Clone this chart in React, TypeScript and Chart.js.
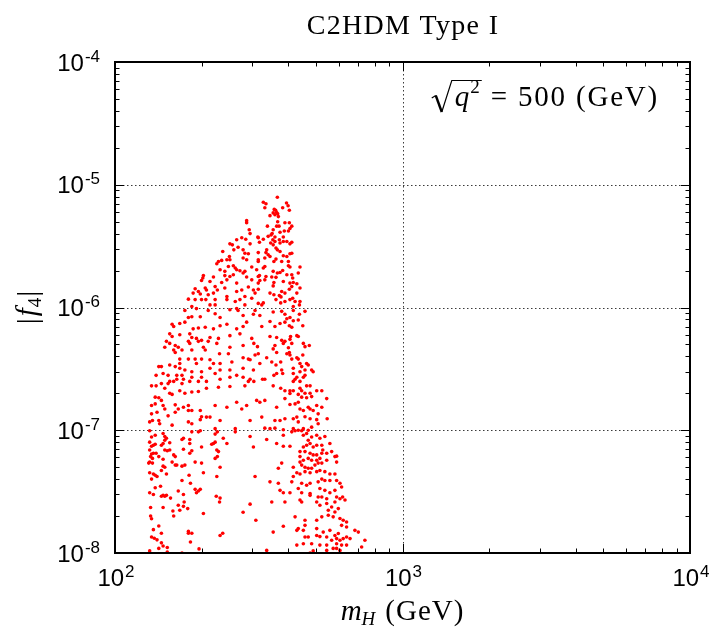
import React, { useEffect, useRef } from "react";
import { Chart, registerables } from "chart.js";

Chart.register(...registerables);

// ---- axis / text content ----
const titleText = "C2HDM Type I";
const xTickValues = [100, 1000, 10000];
const xTickExponents = ["2", "3", "4"];
const yTickValues = [1e-8, 1e-7, 1e-6, 1e-5, 1e-4];
const yTickExponents = ["-8", "-7", "-6", "-5", "-4"];
const minorFactors = [2, 3, 4, 5, 6, 7, 8, 9];
const annotationRest = "= 500 (GeV)";

// ---- scatter data: [m_H (GeV), |f4|] ----
const peakPoints: [number, number][] = [
  [367,7.9e-6],[328,7.2e-6],[335,7.0e-6],[332,6.5e-6],[395,7.1e-6],[400,6.75e-6],[383,6.5e-6],[404,6.2e-6],[358,6.3e-6],[362,6.2e-6],
  [355,5.9e-6],[365,5.95e-6],[360,5.7e-6],[368,5.8e-6],[346,5.6e-6],[370,5.5e-6],[368,5.0e-6],[390,4.9e-6],[404,4.9e-6],[412,4.6e-6],
  [406,4.4e-6],[339,4.6e-6],[365,4.6e-6],[372,4.6e-6],[355,4.3e-6],[352,4.0e-6],[388,4.2e-6],[401,4.2e-6],[375,4.1e-6],[341,3.8e-6],
  [349,3.9e-6],[360,3.75e-6],[385,3.75e-6],[314,3.75e-6],[328,3.6e-6],
];

const upperLeftPoints: [number, number][] = [
  [287,5.1e-6],[287,4.9e-6],[293,4.3e-6],[295,4.0e-6],[276,3.7e-6],[285,3.6e-6],[315,3.7e-6],[251,3.3e-6],[265,3.56e-6],[256,3.24e-6],
  [268,3.1e-6],[295,3.3e-6],[279,2.95e-6],[237,2.86e-6],[259,2.95e-6],[283,2.77e-6],[291,2.74e-6],[315,2.8e-6],[250,2.6e-6],[245,2.45e-6],
  [251,2.45e-6],[229,2.37e-6],[235,2.42e-6],[226,2.27e-6],[279,2.53e-6],[287,2.45e-6],[315,2.37e-6],[248,2.16e-6],[258,2.19e-6],[262,2.1e-6],
  [232,2.03e-6],[241,1.97e-6],[265,2.03e-6],[272,1.99e-6],[283,1.97e-6],[299,2.14e-6],[311,2.03e-6],[203,1.82e-6],[202,1.74e-6],[220,1.77e-6],
  [241,1.82e-6],[251,1.79e-6],[258,1.85e-6],[279,1.91e-6],[287,1.77e-6],[299,1.68e-6],[315,1.79e-6],[200,1.66e-6],[214,1.63e-6],[235,1.6e-6],
  [245,1.68e-6],[265,1.58e-6],[190,1.42e-6],[195,1.35e-6],[206,1.44e-6],[208,1.39e-6],[223,1.48e-6],[227,1.39e-6],[241,1.44e-6],[276,1.39e-6],
  [291,1.47e-6],[303,1.39e-6],[315,1.58e-6],[187,1.31e-6],[198,1.29e-6],[211,1.27e-6],[220,1.31e-6],[245,1.23e-6],[265,1.35e-6],[283,1.23e-6],
  [307,1.31e-6],[180,1.17e-6],[190,1.16e-6],[200,1.16e-6],[207,1.16e-6],[223,1.16e-6],[245,1.16e-6],[262,1.12e-6],[272,1.16e-6],[299,1.19e-6],
  [185,1.02e-6],[192,9.8e-7],[214,1.05e-6],[223,1.05e-6],[265,9.8e-7],[283,1.05e-6],[315,1.08e-6],[175,9.45e-7],[211,9.45e-7],[251,9.6e-7],
  [268,9.45e-7],[307,9.45e-7],
];

const upperRightPoints: [number, number][] = [
  [354,3.56e-6],[360,3.45e-6],[373,3.56e-6],[375,3.35e-6],[385,3.45e-6],[396,3.45e-6],[406,3.3e-6],[412,3.4e-6],[318,3.4e-6],[348,3.35e-6],
  [355,3.24e-6],[363,3.05e-6],[367,2.95e-6],[375,2.86e-6],[406,2.74e-6],[385,2.64e-6],[396,2.6e-6],[412,2.77e-6],[337,2.95e-6],[335,2.8e-6],
  [341,2.69e-6],[346,2.6e-6],[315,2.45e-6],[332,2.53e-6],[357,2.37e-6],[363,2.48e-6],[380,2.37e-6],[401,2.37e-6],[332,2.16e-6],[328,2.1e-6],
  [355,1.97e-6],[367,1.91e-6],[375,1.93e-6],[383,2.0e-6],[401,2.19e-6],[406,2.14e-6],[440,2.14e-6],[318,1.82e-6],[335,1.79e-6],[351,1.77e-6],
  [363,1.76e-6],[396,1.85e-6],[412,1.85e-6],[415,1.74e-6],[434,1.91e-6],[332,1.68e-6],[319,1.66e-6],[357,1.6e-6],[355,1.5e-6],[385,1.63e-6],
  [406,1.58e-6],[417,1.6e-6],[429,1.56e-6],[315,1.41e-6],[346,1.31e-6],[357,1.27e-6],[373,1.25e-6],[378,1.22e-6],[380,1.35e-6],[390,1.31e-6],
  [404,1.41e-6],[412,1.48e-6],[429,1.31e-6],[440,1.44e-6],[328,1.09e-6],[324,1.05e-6],[363,1.16e-6],[377,1.09e-6],[390,1.12e-6],[406,1.16e-6],
  [415,1.19e-6],[423,1.12e-6],[440,1.12e-6],[438,1.05e-6],[417,1.02e-6],
];

const middleLeftPoints: [number, number][] = [
  [180,8.3e-7],[185,8.4e-7],[198,8.4e-7],[223,8.9e-7],[232,8.3e-7],[279,8.6e-7],
  [158,7.3e-7],[160,7.0e-7],[168,7.4e-7],[175,7.6e-7],[187,6.7e-7],[195,6.8e-7],[206,6.9e-7],[220,6.7e-7],[232,7.1e-7],[245,7.3e-7],[287,7.6e-7],[279,7.0e-7],[265,6.7e-7],
  [155,6.1e-7],[158,5.8e-7],[168,6.0e-7],[182,6.1e-7],[185,5.7e-7],[192,5.6e-7],[200,5.4e-7],[214,5.7e-7],[229,5.6e-7],[251,5.9e-7],[272,6.1e-7],
  [151,5.3e-7],[155,5.1e-7],[149,4.75e-7],[162,4.9e-7],[166,4.75e-7],[180,5.3e-7],[182,5.1e-7],[195,5.3e-7],[203,4.75e-7],[211,5.3e-7],[226,5.1e-7],[251,4.75e-7],[279,4.9e-7],
  [160,4.5e-7],[162,4.3e-7],[171,4.5e-7],[185,4.5e-7],[206,4.5e-7],[231,4.2e-7],[248,4.2e-7],[279,3.9e-7],[291,3.8e-7],
  [168,3.8e-7],[168,3.5e-7],[180,3.8e-7],[190,3.8e-7],[192,3.5e-7],[200,3.8e-7],[214,3.75e-7],[220,3.5e-7],[232,3.5e-7],[255,3.6e-7],
  [142,3.3e-7],[145,3.3e-7],[155,3.4e-7],[162,3.3e-7],[168,3.2e-7],[175,3.1e-7],[185,3.0e-7],[200,3.0e-7],[214,3.2e-7],[232,3.1e-7],[251,3.1e-7],[279,3.2e-7],
  [139,2.8e-7],[147,2.9e-7],[153,2.8e-7],[164,2.8e-7],[171,2.8e-7],[155,2.5e-7],[164,2.6e-7],[160,2.5e-7],[173,2.6e-7],[185,2.7e-7],[200,2.7e-7],[223,2.9e-7],[265,2.8e-7],[279,2.7e-7],[291,2.5e-7],
  [134,2.3e-7],[139,2.3e-7],[145,2.4e-7],[149,2.2e-7],[153,2.4e-7],[171,2.4e-7],[182,2.5e-7],[195,2.5e-7],[208,2.5e-7],[232,2.6e-7],[251,2.7e-7],
  [138,1.86e-7],[142,1.84e-7],[145,1.75e-7],[155,2.0e-7],[158,1.96e-7],[168,2.1e-7],[175,2.0e-7],[185,2.05e-7],[195,2.07e-7],[208,2.2e-7],[229,2.24e-7],[251,2.27e-7],[283,2.3e-7],
  [134,1.59e-7],[138,1.64e-7],[147,1.59e-7],[149,1.49e-7],[162,1.61e-7],[166,1.49e-7],[173,1.54e-7],[180,1.59e-7],[185,1.45e-7],[198,1.45e-7],[223,1.59e-7],[245,1.54e-7],[265,1.69e-7],[276,1.49e-7],[287,1.59e-7],
  [134,1.36e-7],[140,1.4e-7],[153,1.31e-7],[162,1.4e-7],[180,1.45e-7],[200,1.29e-7],[208,1.28e-7],[214,1.28e-7],[232,1.2e-7],
  [132,1.17e-7],[135,1.2e-7],[142,1.2e-7],[143,1.13e-7],[158,1.1e-7],[180,1.17e-7],[185,1.13e-7],[198,1.22e-7],[223,1.03e-7],[262,1.03e-7],
];

const middleRightPoints: [number, number][] = [
  [303,8.8e-7],[319,8.6e-7],[355,9.2e-7],[380,9.3e-7],[390,8.8e-7],[406,8.3e-7],[396,8.1e-7],[438,8.8e-7],[458,9.3e-7],[417,9.45e-7],
  [324,7.0e-7],[346,7.7e-7],[360,7.0e-7],[375,7.4e-7],[390,7.6e-7],[404,7.1e-7],[417,7.8e-7],[412,6.9e-7],[450,7.1e-7],[434,7.9e-7],
  [299,5.6e-7],[304,5.1e-7],[313,4.8e-7],[337,3.9e-7],[346,5.8e-7],[365,5.7e-7],[380,5.4e-7],[385,5.1e-7],[390,5.3e-7],[408,5.8e-7],
  [406,5.5e-7],[412,5.1e-7],[401,4.7e-7],[429,5.9e-7],[434,5.8e-7],[452,5.1e-7],[458,4.8e-7],[474,4.9e-7],[360,4.9e-7],[365,4.3e-7],[355,4.6e-7],
  [307,4.1e-7],[315,4.2e-7],[295,3.75e-7],[319,3.5e-7],[351,3.6e-7],[363,3.4e-7],[377,3.6e-7],[396,4.2e-7],[406,4.1e-7],[412,3.8e-7],
  [404,4.3e-7],[429,3.9e-7],[450,4.1e-7],[434,3.8e-7],[440,3.5e-7],[446,3.3e-7],[464,3.5e-7],[470,3.4e-7],[483,3.1e-7],[489,3.0e-7],[458,3.1e-7],[417,3.2e-7],
  [303,3.1e-7],[295,2.6e-7],[304,2.5e-7],[326,2.6e-7],[332,2.6e-7],[357,2.8e-7],[355,2.3e-7],[365,2.9e-7],[380,3.1e-7],[383,2.9e-7],
  [417,2.9e-7],[423,2.6e-7],[440,3.0e-7],[429,2.7e-7],[417,2.5e-7],[440,2.5e-7],[452,2.7e-7],[458,2.8e-7],[464,2.3e-7],[477,2.3e-7],[440,2.2e-7],
  [377,2.2e-7],[390,2.1e-7],[406,2.1e-7],[417,2.1e-7],[446,2.1e-7],[458,2.0e-7],[477,2.0e-7],[483,1.88e-7],[503,2.1e-7],[524,2.1e-7],
  [545,1.81e-7],[390,1.81e-7],[406,1.99e-7],[434,1.96e-7],[446,1.86e-7],[464,1.84e-7],
  [311,1.75e-7],[319,1.69e-7],[332,1.75e-7],[365,1.54e-7],[406,1.62e-7],[423,1.64e-7],[434,1.69e-7],[440,1.49e-7],[452,1.45e-7],[470,1.54e-7],
  [477,1.49e-7],[489,1.45e-7],[503,1.59e-7],[524,1.54e-7],[509,1.36e-7],
  [324,1.28e-7],[360,1.2e-7],[375,1.2e-7],[390,1.24e-7],[417,1.24e-7],[429,1.28e-7],[434,1.17e-7],[458,1.29e-7],[477,1.24e-7],[503,1.22e-7],
  [509,1.13e-7],[547,1.24e-7],[295,1.2e-7],
  [332,1.04e-7],[346,1.03e-7],[360,1.04e-7],[385,1.01e-7],[417,1.03e-7],[434,1.0e-7],[452,1.03e-7],[483,1.06e-7],[470,1.0e-7],
];

const lowerLeftPoints: [number, number][] = [
  [132,9.9e-8],[134,8.8e-8],[138,9.1e-8],[147,9.4e-8],[149,8.9e-8],[151,8.6e-8],[155,7.9e-8],[171,8.4e-8],[173,8.6e-8],[182,8.4e-8],
  [185,9.7e-8],[195,9.7e-8],[198,9.9e-8],[223,9.3e-8],[227,9.7e-8],[238,8.6e-8],[245,7.8e-8],[262,9.7e-8],[295,8.9e-8],
  [132,8.0e-8],[134,7.4e-8],[136,7.55e-8],[138,7.7e-8],[145,7.55e-8],[147,7.8e-8],[149,8.3e-8],[149,6.9e-8],[152,6.8e-8],[155,6.9e-8],
  [160,6.3e-8],[162,6.1e-8],[173,7.0e-8],[182,7.8e-8],[185,6.8e-8],[182,6.5e-8],[200,7.3e-8],[217,7.7e-8],[220,7.8e-8],[223,8.0e-8],
  [226,6.9e-8],[229,6.7e-8],[303,7.3e-8],
  [132,6.9e-8],[134,6.4e-8],[136,6.5e-8],[139,6.5e-8],[133,6.1e-8],[135,5.9e-8],[142,6.1e-8],[147,5.8e-8],[158,5.5e-8],[162,5.2e-8],
  [164,5.2e-8],[147,5.1e-8],[149,5.0e-8],[145,4.7e-8],[132,5.5e-8],[131,5.4e-8],[135,5.4e-8],[171,5.1e-8],[175,5.2e-8],[190,5.5e-8],
  [200,5.4e-8],[223,5.9e-8],[227,6.1e-8],[232,5.0e-8],
  [132,4.5e-8],[136,4.4e-8],[138,4.3e-8],[140,4.2e-8],[134,4.0e-8],[151,4.4e-8],[181,4.3e-8],[203,4.5e-8],[226,4.2e-8],[307,4.2e-8],
  [171,3.9e-8],[183,3.7e-8],
  [132,3.1e-8],[136,3.0e-8],[144,3.5e-8],[147,2.95e-8],[149,2.9e-8],[151,2.95e-8],[156,2.8e-8],[138,3.4e-8],[145,2.9e-8],[166,3.2e-8],
  [190,3.3e-8],[192,3.1e-8],[195,3.2e-8],[198,3.3e-8],[173,3.0e-8],
  [133,2.35e-8],[147,2.35e-8],[159,2.2e-8],[166,2.45e-8],[168,2.23e-8],[173,2.4e-8],[174,2.6e-8],[179,2.3e-8],[203,2.1e-8],[225,2.9e-8],
  [232,2.8e-8],[231,2.6e-8],[279,2.15e-8],[295,2.5e-8],[309,1.85e-8],
  [133,2.0e-8],[134,1.9e-8],[160,2.0e-8],[136,1.55e-8],[142,1.66e-8],[145,1.45e-8],[134,1.35e-8],[137,1.32e-8],[140,1.28e-8],[180,1.5e-8],
  [180,1.45e-8],[185,1.45e-8],[183,1.23e-8],[232,1.39e-8],[237,1.45e-8],
  [132,1.04e-8],[142,1.09e-8],[145,1.21e-8],[147,1.14e-8],[152,1.11e-8],[152,1.02e-8],[196,1.08e-8],[171,1.0e-8],
];

const lowerRightPoints: [number, number][] = [
  [337,8.4e-8],[365,7.8e-8],[385,9.1e-8],[412,9.7e-8],[423,9.9e-8],[446,9.9e-8],[452,9.1e-8],[464,9.4e-8],[470,8.3e-8],[483,8.8e-8],
  [503,9.1e-8],[516,8.6e-8],[537,8.9e-8],
  [452,7.3e-8],[464,7.55e-8],[477,7.8e-8],[489,7.3e-8],[503,7.55e-8],[524,7.55e-8],[559,7.8e-8],[385,7.4e-8],[406,7.4e-8],
  [417,5.0e-8],[440,6.7e-8],[458,6.7e-8],[477,6.5e-8],[489,6.3e-8],[503,6.3e-8],[524,6.5e-8],[528,6.9e-8],[545,6.5e-8],[567,6.7e-8],
  [582,6.1e-8],[590,6.15e-8],
  [440,6.1e-8],[452,5.7e-8],[470,5.9e-8],[483,5.7e-8],[503,5.7e-8],[516,5.9e-8],[380,5.4e-8],[370,4.9e-8],[440,5.5e-8],[446,5.2e-8],
  [458,5.0e-8],[470,4.9e-8],[483,4.9e-8],[496,5.2e-8],[509,5.4e-8],[524,5.4e-8],[545,5.7e-8],[590,5.5e-8],
  [429,4.5e-8],[440,4.4e-8],[458,4.6e-8],[477,4.5e-8],[503,4.6e-8],[516,4.7e-8],[537,4.6e-8],[559,4.4e-8],[582,4.4e-8],[417,4.2e-8],
  [346,3.8e-8],[412,3.8e-8],[446,3.7e-8],[464,3.56e-8],[477,3.7e-8],[509,3.8e-8],[524,4.0e-8],[537,3.9e-8],[559,3.9e-8],[590,3.9e-8],
  [606,3.7e-8],[370,3.7e-8],
  [375,3.24e-8],[385,3.1e-8],[434,3.35e-8],[446,3.1e-8],[477,3.05e-8],[516,3.35e-8],[537,3.24e-8],[559,3.1e-8],[582,3.24e-8],[406,3.1e-8],
  [440,2.7e-8],[446,2.6e-8],[477,2.95e-8],[509,2.86e-8],[524,2.86e-8],[545,2.77e-8],[590,2.86e-8],[606,2.77e-8],[631,2.7e-8],
  [503,2.6e-8],[516,2.45e-8],[545,2.53e-8],[582,2.6e-8],[567,2.37e-8],[598,2.3e-8],[552,2.23e-8],[582,2.16e-8],[390,2.6e-8],[351,2.6e-8],
  [423,1.97e-8],[458,1.85e-8],[503,1.85e-8],[524,1.97e-8],[552,2.03e-8],[574,1.97e-8],[606,1.91e-8],[622,1.85e-8],[639,1.79e-8],
  [434,1.58e-8],[429,1.53e-8],[452,1.53e-8],[458,1.68e-8],[503,1.58e-8],[530,1.48e-8],[559,1.53e-8],[582,1.39e-8],[598,1.44e-8],[614,1.68e-8],
  [639,1.63e-8],[683,1.53e-8],[702,1.48e-8],[355,1.48e-8],[385,1.65e-8],
  [458,1.35e-8],[470,1.35e-8],[503,1.39e-8],[516,1.36e-8],[545,1.35e-8],[567,1.27e-8],[590,1.31e-8],[606,1.27e-8],[622,1.31e-8],[639,1.35e-8],
  [657,1.31e-8],[740,1.27e-8],
  [429,1.16e-8],[452,1.19e-8],[483,1.19e-8],[516,1.16e-8],[545,1.16e-8],[590,1.19e-8],[614,1.16e-8],[639,1.16e-8],[721,1.12e-8],
  [574,1.09e-8],[590,1.09e-8],[606,1.05e-8],[489,1.04e-8],[545,1.05e-8],[337,1.05e-8],[477,1.0e-8],[606,1.0e-8],
  [614,3.45e-8],[619,2.86e-8],
];

const SANS = "'Liberation Sans', Arial, Helvetica, sans-serif";
const SERIF = "'Liberation Serif', 'Times New Roman', serif";
const MAIN_FONT = `24px ${SANS}`;
const SUP_FONT = `17px ${SANS}`;

type Part = { text: string; font: string; dy: number; gap?: number; spacing?: number };

function drawParts(ctx: CanvasRenderingContext2D, parts: Part[], cx: number, baseline: number) {
  const c = ctx as any;
  let total = 0;
  const widths = parts.map((p) => {
    ctx.font = p.font;
    c.letterSpacing = `${p.spacing || 0}px`;
    const w = ctx.measureText(p.text).width + (p.gap || 0);
    total += w;
    return w;
  });
  let x = cx - total / 2;
  ctx.textAlign = "left";
  ctx.textBaseline = "alphabetic";
  parts.forEach((p, i) => {
    ctx.font = p.font;
    c.letterSpacing = `${p.spacing || 0}px`;
    ctx.fillText(p.text, x, baseline + p.dy);
    x += widths[i];
  });
  c.letterSpacing = "0px";
}

const framePlugin = {
  id: "gnuplotFrame",
  beforeDatasetsDraw(chart: any) {
    const { ctx, chartArea: a, scales } = chart;
    const xs = scales.x;
    const ys = scales.y;
    ctx.save();
    ctx.strokeStyle = "#3a3a3a";
    ctx.lineWidth = 1;
    ctx.setLineDash([1.5, 2.5]);
    for (const v of xTickValues) {
      const px = Math.round(xs.getPixelForValue(v)) + 0.5;
      if (px > a.left + 3 && px < a.right - 3) {
        ctx.beginPath();
        ctx.moveTo(px, a.top);
        ctx.lineTo(px, a.bottom);
        ctx.stroke();
      }
    }
    for (const v of yTickValues) {
      const py = Math.round(ys.getPixelForValue(v)) + 0.5;
      if (py > a.top + 3 && py < a.bottom - 3) {
        ctx.beginPath();
        ctx.moveTo(a.left, py);
        ctx.lineTo(a.right, py);
        ctx.stroke();
      }
    }
    ctx.restore();
  },
  afterDatasetsDraw(chart: any) {
    const { ctx, chartArea: a, scales } = chart;
    const xs = scales.x;
    const ys = scales.y;
    ctx.save();
    ctx.strokeStyle = "#000";
    ctx.lineWidth = 1;
    const MAJ = 9;
    const MIN = 4.5;
    const xTick = (v: number, len: number) => {
      const px = Math.round(xs.getPixelForValue(v)) + 0.5;
      ctx.beginPath();
      ctx.moveTo(px, a.bottom);
      ctx.lineTo(px, a.bottom - len);
      ctx.moveTo(px, a.top);
      ctx.lineTo(px, a.top + len);
      ctx.stroke();
    };
    const yTick = (v: number, len: number) => {
      const py = Math.round(ys.getPixelForValue(v)) + 0.5;
      ctx.beginPath();
      ctx.moveTo(a.left, py);
      ctx.lineTo(a.left + len, py);
      ctx.moveTo(a.right, py);
      ctx.lineTo(a.right - len, py);
      ctx.stroke();
    };
    xTickValues.forEach((v) => xTick(v, MAJ));
    xTickValues.slice(0, -1).forEach((v) => minorFactors.forEach((f) => xTick(v * f, MIN)));
    yTickValues.forEach((v) => yTick(v, MAJ));
    yTickValues.slice(0, -1).forEach((v) => minorFactors.forEach((f) => yTick(v * f, MIN)));
    ctx.lineWidth = 2;
    ctx.strokeRect(a.left, a.top, a.right - a.left, a.bottom - a.top);
    ctx.restore();
  },
  afterDraw(chart: any) {
    const { ctx, chartArea: a, scales } = chart;
    const c = ctx as any;
    const xs = scales.x;
    const ys = scales.y;
    ctx.save();
    ctx.fillStyle = "#000";
    ctx.textBaseline = "alphabetic";

    // y tick labels
    yTickValues.forEach((v, i) => {
      const py = ys.getPixelForValue(v);
      ctx.font = SUP_FONT;
      const ws = ctx.measureText(yTickExponents[i]).width;
      ctx.font = MAIN_FONT;
      const wm = ctx.measureText("10").width;
      const right = a.left - 15;
      ctx.textAlign = "left";
      ctx.fillText("10", right - ws - wm - 1, py + 8.5);
      ctx.font = SUP_FONT;
      ctx.fillText(yTickExponents[i], right - ws, py - 0.5);
    });

    // x tick labels
    xTickValues.forEach((v, i) => {
      const px = xs.getPixelForValue(v);
      drawParts(
        ctx,
        [
          { text: "10", font: MAIN_FONT, dy: 0, gap: 1 },
          { text: xTickExponents[i], font: SUP_FONT, dy: -9.5 },
        ],
        px + 1,
        586
      );
    });

    const cx = (a.left + a.right) / 2;

    // title
    ctx.font = `28px ${SERIF}`;
    c.letterSpacing = "1.3px";
    ctx.textAlign = "center";
    ctx.fillText(titleText, cx + 0.5, 34);
    c.letterSpacing = "0px";

    // x axis label
    drawParts(
      ctx,
      [
        { text: "m", font: `italic 29px ${SERIF}`, dy: 0, spacing: 0 },
        { text: "H", font: `italic 19px ${SERIF}`, dy: 5, gap: 10 },
        { text: "(GeV)", font: `29px ${SERIF}`, dy: 0, spacing: 1 },
      ],
      cx,
      620
    );

    // y axis label (rotated)
    ctx.save();
    ctx.translate(36, (a.top + a.bottom) / 2);
    ctx.rotate(-Math.PI / 2);
    drawParts(
      ctx,
      [
        { text: "|", font: `30px ${SERIF}`, dy: 1, gap: 2 },
        { text: "f", font: `italic 29px ${SERIF}`, dy: 0, gap: 1 },
        { text: "4", font: `19px ${SERIF}`, dy: 5, gap: 1 },
        { text: "|", font: `30px ${SERIF}`, dy: 1 },
      ],
      0,
      0
    );
    ctx.restore();

    // annotation sqrt(q^2) = 500 (GeV)
    const base = 106;
    ctx.font = `29px ${SERIF}`;
    c.letterSpacing = "1.8px";
    const restW = ctx.measureText(annotationRest).width;
    const restX = 659 - restW;
    ctx.textAlign = "left";
    ctx.fillText(annotationRest, restX, base);
    c.letterSpacing = "0px";
    ctx.font = `19px ${SERIF}`;
    const w2 = ctx.measureText("2").width;
    const supX = restX - 11 - w2;
    ctx.fillText("2", supX, base - 13);
    ctx.font = `italic 29px ${SERIF}`;
    const wq = ctx.measureText("q").width;
    const qX = supX - wq - 1;
    ctx.fillText("q", qX, base);
    const rx = qX - 3;
    const top = 80.5;
    ctx.strokeStyle = "#000";
    ctx.lineJoin = "miter";
    ctx.lineWidth = 1.2;
    ctx.beginPath();
    ctx.moveTo(rx - 20, 98);
    ctx.lineTo(rx - 16, 95.5);
    ctx.stroke();
    ctx.lineWidth = 2.4;
    ctx.beginPath();
    ctx.moveTo(rx - 16, 95.5);
    ctx.lineTo(rx - 10, 112);
    ctx.stroke();
    ctx.lineWidth = 1.2;
    ctx.beginPath();
    ctx.moveTo(rx - 10, 112);
    ctx.lineTo(rx, top);
    ctx.lineTo(supX + w2 + 2, top);
    ctx.stroke();

    ctx.restore();
  },
};

export default function App() {
  const canvasRef = useRef<HTMLCanvasElement | null>(null);

  useEffect(() => {
    document.body.style.margin = "0";
    const canvas = canvasRef.current;
    if (!canvas) return;
    const all = [
      ...peakPoints,
      ...upperLeftPoints,
      ...upperRightPoints,
      ...middleLeftPoints,
      ...middleRightPoints,
      ...lowerLeftPoints,
      ...lowerRightPoints,
    ].map(([x, y]) => ({ x, y }));

    const chart = new Chart(canvas, {
      type: "scatter",
      data: {
        datasets: [
          {
            data: all,
            backgroundColor: "#ff0000",
            borderWidth: 0,
            pointRadius: 1.8,
            pointHoverRadius: 1.8,
            pointStyle: "circle",
          },
        ],
      },
      options: {
        animation: false,
        responsive: false,
        events: [],
        layout: { padding: { left: 0, right: 21, top: 62, bottom: 0 } },
        plugins: {
          legend: { display: false },
          tooltip: { enabled: false },
          title: { display: false },
        },
        scales: {
          x: {
            type: "logarithmic",
            min: 100,
            max: 10000,
            grid: { display: false },
            border: { display: false },
            ticks: { display: false },
            afterFit: (s: any) => {
              s.height = 79;
            },
          },
          y: {
            type: "logarithmic",
            min: 1e-8,
            max: 1e-4,
            grid: { display: false },
            border: { display: false },
            ticks: { display: false },
            afterFit: (s: any) => {
              s.width = 115;
            },
          },
        },
      } as any,
      plugins: [framePlugin],
    });
    return () => chart.destroy();
  }, []);

  return (
    <canvas
      ref={canvasRef}
      width={711}
      height={632}
      style={{ display: "block", width: 711, height: 632 }}
    />
  );
}
